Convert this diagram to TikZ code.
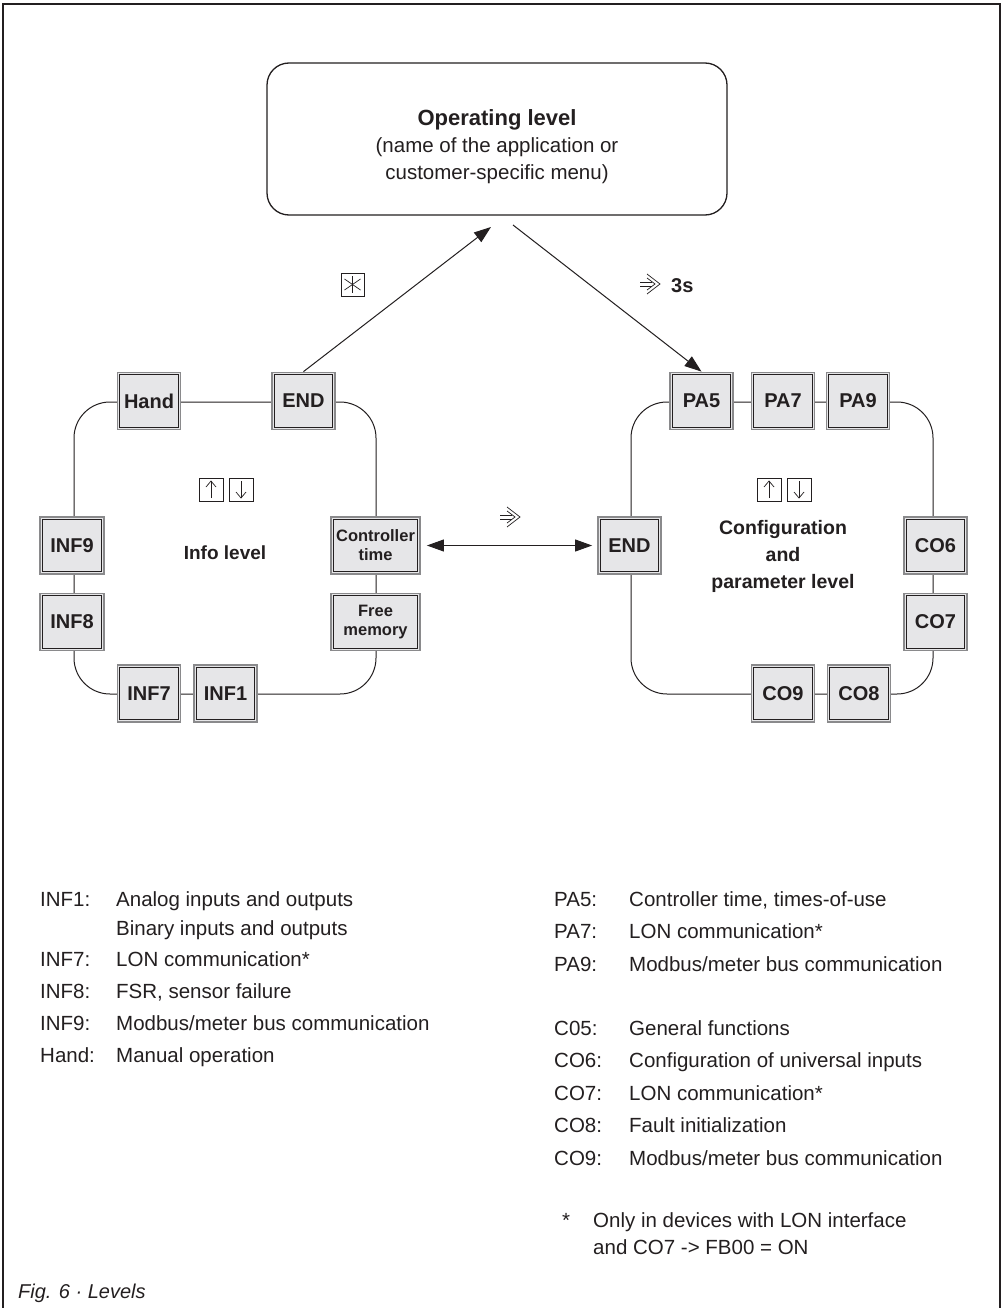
\documentclass[tikz,border=0pt]{standalone}
\usepackage{fontspec}
\setmainfont{Liberation Sans}
\usetikzlibrary{arrows.meta}
\definecolor{ink}{HTML}{231F20}
\definecolor{boxfill}{HTML}{E6E6E8}
\definecolor{boxedge}{HTML}{8A8A8C}
\newcommand\setfs[2]{\fontsize{#1}{#2}\selectfont}
% key box: style, name, x, y, width, text
\newcommand\keyn[6]{%
  \node[keyb, #1, minimum width=#5pt] (#2) at (#3,#4) {#6};
  \draw[line width=1.1pt, ink] ([shift={(3.2pt,-3.2pt)}]#2.north west) rectangle ([shift={(-3.2pt,3.2pt)}]#2.south east);}
% up/down icon pair at top-left x,y
\newcommand\udicons[2]{%
  \draw[sym] (#1,#2) rectangle ({#1+24},{#2+23});
  \draw[sym] ({#1+12},{#2+20}) -- ({#1+12},{#2+3});
  \draw[sym] ({#1+7},{#2+9}) -- ({#1+12},{#2+3}) -- ({#1+17},{#2+9});
  \draw[sym] ({#1+30},#2) rectangle ({#1+54},{#2+23});
  \draw[sym] ({#1+42},{#2+3}) -- ({#1+42},{#2+20});
  \draw[sym] ({#1+37},{#2+14}) -- ({#1+42},{#2+20}) -- ({#1+47},{#2+14});}
% enter symbol at top-left x,y
\newcommand\entersym[2]{%
  \draw[sym] (#1,{#2+9}) -- ({#1+12},{#2+9});
  \draw[sym] (#1,{#2+13}) -- ({#1+12},{#2+13});
  \draw[sym] ({#1+7},{#2+1}) -- ({#1+20},{#2+11}) -- ({#1+7},{#2+21});
  \draw[sym] ({#1+7},{#2+5}) -- ({#1+15},{#2+11}) -- ({#1+7},{#2+17});}
\begin{document}
\begin{tikzpicture}[x=1pt,y=-1pt,
  every node/.style={text=ink},
  keyb/.style={draw=boxedge, line width=1.8pt, fill=boxfill, minimum height=57pt,
    inner sep=0pt, align=center, font=\bfseries\setfs{20}{22}},
  small/.style={font=\bfseries\setfs{16.5}{19}},
  normal/.style={},
  loopline/.style={draw=ink, line width=1pt, rounded corners=36pt},
  arr/.style={draw=ink, line width=1pt, -{Triangle[length=17pt,width=12pt]}},
  darr/.style={draw=ink, line width=1pt, {Triangle[length=17pt,width=12pt]}-{Triangle[length=17pt,width=12pt]}},
  leg/.style={anchor=base west, font=\setfs{20.5}{24}, inner sep=0pt},
  sym/.style={draw=ink, line width=0.7pt}]
\useasboundingbox (0,0) rectangle (1007,1308);
\fill[white] (0,0) rectangle (1007,1308);
% frame
\draw[ink, line width=1.4pt] (3,1308) -- (3,4) -- (1000,4) -- (1000,1308);

% operating level
\node[draw=ink, line width=1.3pt, rounded corners=22pt, minimum width=460pt, minimum height=152pt, inner sep=0pt] (op) at (497,139) {};
\node[anchor=base, font=\bfseries\setfs{22}{26}, inner sep=0pt] (optitle) at (497,126) {Operating level};
\node[anchor=base, font=\setfs{20.5}{24}, inner sep=0pt] (opsub1) at (497,153) {(name of the application or};
\node[anchor=base, font=\setfs{20.5}{24}, inner sep=0pt] (opsub2) at (497,179) {customer-specific menu)};

% loops
\draw[loopline] (74,402) rectangle (376,694);
\draw[loopline] (631,402) rectangle (933,694);

% info level boxes
\keyn{normal}{hand}{149}{401}{63}{Hand}
\keyn{normal}{endL}{303.5}{401}{63}{END}
\keyn{normal}{inf9}{72}{545.5}{64}{INF9}
\keyn{normal}{inf8}{72}{622}{64}{INF8}
\keyn{normal}{inf7}{149}{693.5}{63}{INF7}
\keyn{normal}{inf1}{225.5}{693.5}{63}{INF1}
\keyn{small}{ct}{375.5}{545.5}{89}{Controller\\time}
\keyn{small}{fm}{375.5}{622}{89}{Free\\memory}

% config level boxes
\keyn{normal}{pa5}{701.5}{401}{63}{PA5}
\keyn{normal}{pa7}{783}{401}{63}{PA7}
\keyn{normal}{pa9}{858}{401}{63}{PA9}
\keyn{normal}{endR}{629.5}{545.5}{63}{END}
\keyn{normal}{co6}{935.5}{545.5}{63}{CO6}
\keyn{normal}{co7}{935.5}{622}{63}{CO7}
\keyn{normal}{co9}{783}{693.5}{63}{CO9}
\keyn{normal}{co8}{859}{693.5}{63}{CO8}

% level captions
\node[font=\bfseries\setfs{19}{22}, inner sep=0pt] (infolbl) at (225,553) {Info level};
\node[font=\bfseries\setfs{19.5}{27}, align=center, inner sep=0pt] (cfglbl) at (783,556) {Configuration\\and\\parameter level};
\udicons{199}{478}
\udicons{757}{478}

% connectors
\coordinate (opL) at (491,227);
\coordinate (opR) at (513,225);
\draw[arr] (endL.north) -- (opL);
\draw[arr] (opR) -- (pa5.north);
\draw[darr, shorten <=6pt, shorten >=5pt] (ct.east) -- (endR.west);

% symbols on connectors
\draw[sym] (341,273) rectangle (364,296);
\draw[sym] (352.5,276) -- (352.5,293);
\draw[sym] (344.5,279) -- (360.5,290);
\draw[sym] (344.5,290) -- (360.5,279);
\entersym{640}{273}
\node[anchor=base west, font=\bfseries\setfs{20}{24}, inner sep=0pt] (three) at (671,292) {3s};
\entersym{500}{506}

% legend left
\node[leg] (lInf1) at (40,906) {INF1:};
\node[leg] (dInf1) at (116,906) {Analog inputs and outputs};
\node[leg] (dInf1b) at (116,935) {Binary inputs and outputs};
\node[leg] (lInf7) at (40,966) {INF7:};
\node[leg] (dInf7) at (116,966) {LON communication*};
\node[leg] (lInf8) at (40,998) {INF8:};
\node[leg] (dInf8) at (116,998) {FSR, sensor failure};
\node[leg] (lInf9) at (40,1030) {INF9:};
\node[leg] (dInf9) at (116,1030) {Modbus/meter bus communication};
\node[leg] (lHand) at (40,1062) {Hand:};
\node[leg] (dHand) at (116,1062) {Manual operation};

% legend right
\node[leg] (lPa5) at (554,906) {PA5:};
\node[leg] (dPa5) at (629,906) {Controller time, times-of-use};
\node[leg] (lPa7) at (554,938.5) {PA7:};
\node[leg] (dPa7) at (629,938.5) {LON communication*};
\node[leg] (lPa9) at (554,971) {PA9:};
\node[leg] (dPa9) at (629,971) {Modbus/meter bus communication};
\node[leg] (lCo5) at (554,1035) {C05:};
\node[leg] (dCo5) at (629,1035) {General functions};
\node[leg] (lCo6) at (554,1067.5) {CO6:};
\node[leg] (dCo6) at (629,1067.5) {Configuration of universal inputs};
\node[leg] (lCo7) at (554,1100) {CO7:};
\node[leg] (dCo7) at (629,1100) {LON communication*};
\node[leg] (lCo8) at (554,1132.5) {CO8:};
\node[leg] (dCo8) at (629,1132.5) {Fault initialization};
\node[leg] (lCo9) at (554,1165) {CO9:};
\node[leg] (dCo9) at (629,1165) {Modbus/meter bus communication};
\node[leg] (star) at (562,1227) {*};
\node[leg] (foot1) at (593,1227) {Only in devices with LON interface};
\node[leg] (foot2) at (593,1254) {and CO7 -> FB00 = ON};

% caption
\node[anchor=base west, font=\itshape\setfs{20}{24}, inner sep=0pt] (caption) at (18,1298) {Fig. 6 · Levels};
\end{tikzpicture}
\end{document}
